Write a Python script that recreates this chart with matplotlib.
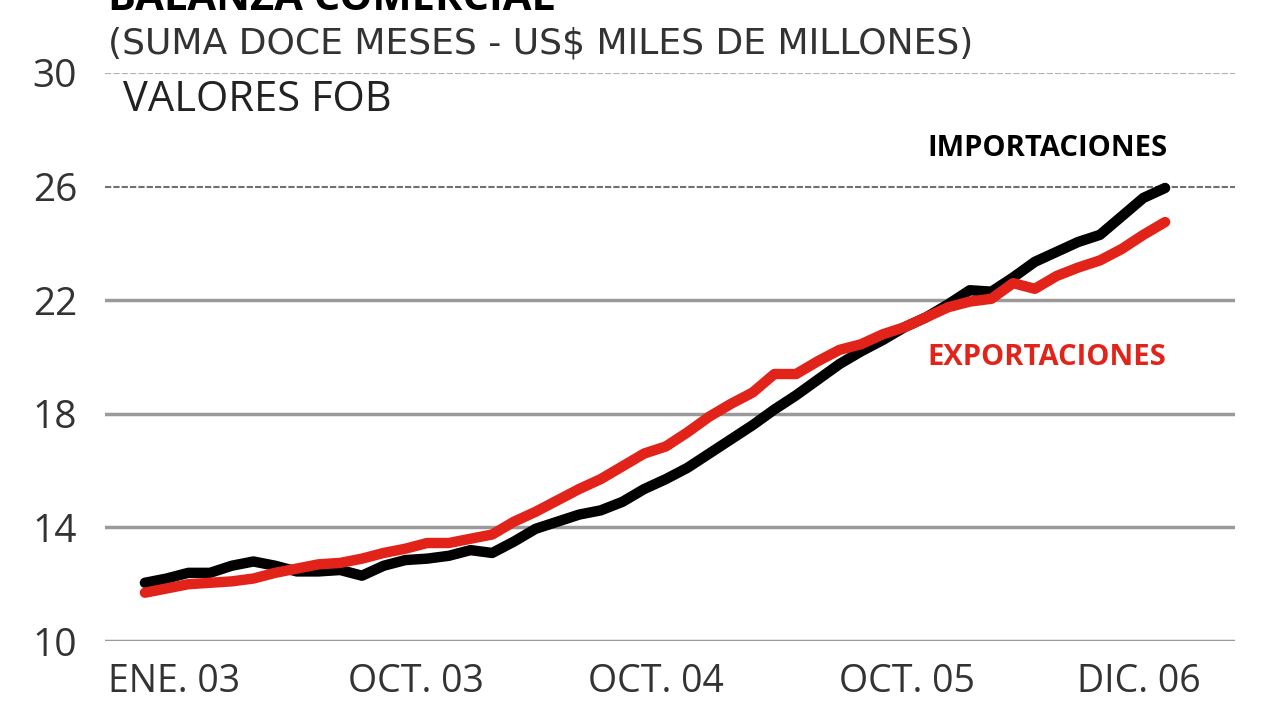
import matplotlib.pyplot as plt

# datos mensuales ene.03 - dic.06 (suma doce meses, US$ miles de millones)
importaciones = [12.05, 12.2, 12.4, 12.4, 12.65, 12.8, 12.65, 12.45, 12.45, 12.5, 12.3, 12.65,
                 12.85, 12.9, 13.0, 13.2, 13.1, 13.5, 13.95, 14.2, 14.45, 14.6, 14.9, 15.35,
                 15.7, 16.1, 16.6, 17.1, 17.6, 18.15, 18.65, 19.2, 19.75, 20.2, 20.6, 21.05,
                 21.4, 21.85, 22.35, 22.3, 22.8, 23.35, 23.7, 24.05, 24.3, 24.95, 25.6, 25.95]
exportaciones = [11.7, 11.85, 12.0, 12.05, 12.1, 12.2, 12.4, 12.55, 12.7, 12.75, 12.9, 13.1,
                 13.25, 13.45, 13.45, 13.6, 13.75, 14.2, 14.55, 14.95, 15.35, 15.7, 16.15, 16.6,
                 16.85, 17.35, 17.9, 18.35, 18.75, 19.4, 19.4, 19.85, 20.25, 20.45, 20.8, 21.05,
                 21.4, 21.75, 21.95, 22.05, 22.6, 22.4, 22.85, 23.15, 23.4, 23.8, 24.3, 24.75]
etiquetas_x = ["ENE. 03", "OCT. 03", "OCT. 04", "OCT. 05", "DIC. 06"]
pos_x = [-1.7, 9.35, 20.4, 32.0, 42.95]
valores_y = [10, 14, 18, 22, 26, 30]

rojo = "#e2231a"
fuente = "Open Sans"

fig = plt.figure(figsize=(12.8, 7.2), dpi=100)
ax = fig.add_axes([0.082, 0.1097, 0.883, 0.789])

# lineas de la grilla (las dos de arriba punteadas)
for v in valores_y:
    if v == 30:
        ax.axhline(v, color="#b0b0b0", lw=1.5, ls=(0, (3, 1)), zorder=1)
    elif v == 26:
        ax.axhline(v, color="#707070", lw=1.5, ls=(0, (3, 1)), zorder=1)
    else:
        ax.axhline(v, color="#9a9a9a", lw=2.5, zorder=1)

meses = list(range(len(importaciones)))
ax.plot(meses, importaciones, color="black", lw=7.5, solid_capstyle="round", zorder=3)
ax.plot(meses, exportaciones, color=rojo, lw=7.5, solid_capstyle="round", zorder=4)

ax.set_xlim(-1.84, 50.23)
ax.set_ylim(10, 30)
for s in ax.spines.values():
    s.set_visible(False)
ax.set_yticks(valores_y)
ax.set_yticklabels([str(v) for v in valores_y], fontsize=28, family=fuente, color="#333333")
ax.tick_params(axis="y", length=0, pad=20)
ax.set_xticks(pos_x)
ax.set_xticklabels(etiquetas_x, fontsize=27, family=fuente, color="#333333", ha="left")
ax.tick_params(axis="x", length=0, pad=16)

# titulos (el titulo queda cortado arriba como en el original)
fig.text(0.084, 0.986, "BALANZA COMERCIAL", fontsize=30, weight="bold", family=fuente, va="baseline")
fig.text(0.084, 0.94, "(SUMA DOCE MESES - US$ MILES DE MILLONES)", fontsize=26, family="DejaVu Sans",
         color="#333333", va="center")
fig.text(0.096, 0.861, "VALORES FOB", fontsize=30, family=fuente, color="#222222", va="center")

# etiquetas de las series
fig.text(0.912, 0.794, "IMPORTACIONES", fontsize=21, weight="bold", family=fuente,
         ha="right", va="center", color="black")
fig.text(0.911, 0.503, "EXPORTACIONES", fontsize=21, weight="bold", family=fuente,
         ha="right", va="center", color=rojo)

fig.savefig("out.png", dpi=100)
